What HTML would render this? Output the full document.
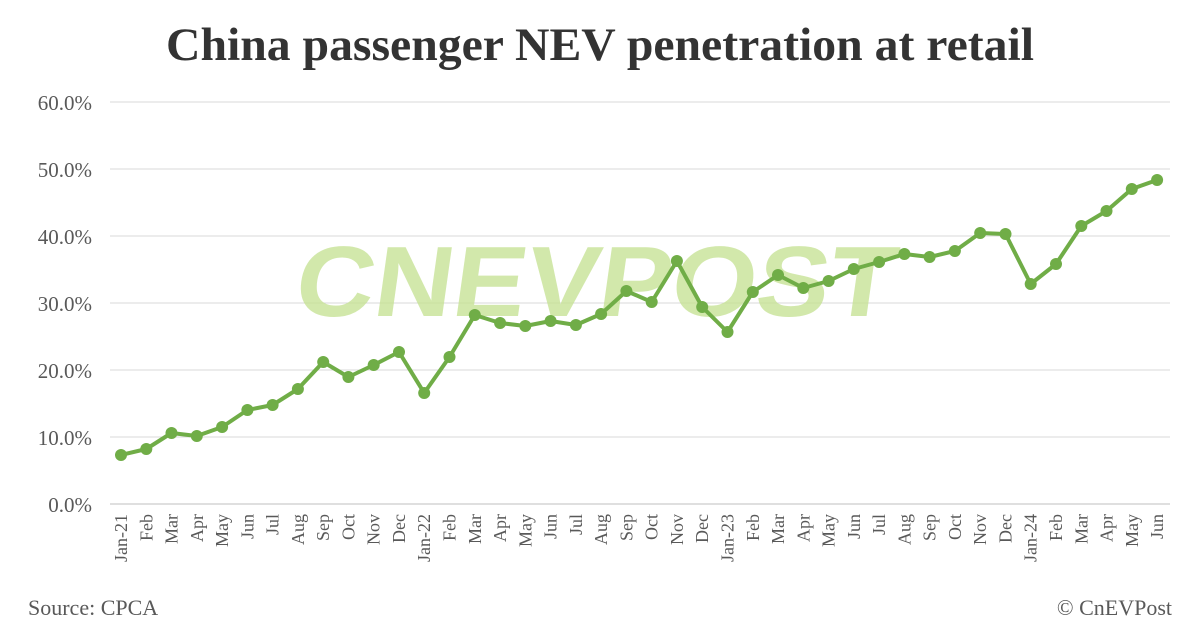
<!DOCTYPE html>
<html><head><meta charset="utf-8"><style>
html,body{margin:0;padding:0;background:#fff;}
</style></head><body>
<svg width="1200" height="628" viewBox="0 0 1200 628" xmlns="http://www.w3.org/2000/svg" font-family="Liberation Serif, serif">
<rect width="1200" height="628" fill="#fff"/>
<text x="600" y="60" text-anchor="middle" font-size="47" font-weight="bold" fill="#333" textLength="868" lengthAdjust="spacingAndGlyphs">China passenger NEV penetration at retail</text>
<g stroke="#d9d9d9" stroke-width="1">
<line x1="110" y1="102" x2="1170" y2="102"/><line x1="110" y1="169" x2="1170" y2="169"/><line x1="110" y1="236" x2="1170" y2="236"/><line x1="110" y1="303" x2="1170" y2="303"/><line x1="110" y1="370" x2="1170" y2="370"/><line x1="110" y1="437" x2="1170" y2="437"/>
</g>
<line x1="110" y1="504" x2="1170" y2="504" stroke="#bfbfbf" stroke-width="1"/>
<g font-size="21" fill="#595959" text-anchor="end">
<text x="92" y="110">60.0%</text><text x="92" y="177">50.0%</text><text x="92" y="244">40.0%</text><text x="92" y="311">30.0%</text><text x="92" y="378">20.0%</text><text x="92" y="445">10.0%</text><text x="92" y="512">0.0%</text>
</g>
<text transform="translate(292,316) skewX(-8)" font-family="Liberation Sans, sans-serif" font-size="100" font-weight="bold" fill="#c3e08f" fill-opacity="0.75" textLength="600" lengthAdjust="spacingAndGlyphs">CNEVPOST</text>
<polyline fill="none" stroke="#70ad47" stroke-width="4" stroke-linejoin="round" points="121.0,455 146.3,449 171.5,433 196.8,436 222.1,427 247.4,410 272.6,405 297.9,389 323.2,362 348.4,377 373.7,365 399.0,352 424.2,393 449.5,357 474.8,315 500.1,323 525.3,326 550.6,321 575.9,325 601.1,314 626.4,291 651.7,302 676.9,261 702.2,307 727.5,332 752.8,292 778.0,275 803.3,288 828.6,281 853.8,269 879.1,262 904.4,254 929.6,257 954.9,251 980.2,233 1005.5,234 1030.7,284 1056.0,264 1081.3,226 1106.5,211 1131.8,189 1157.1,180"/>
<g fill="#70ad47">
<circle cx="121.0" cy="455" r="6"/><circle cx="146.3" cy="449" r="6"/><circle cx="171.5" cy="433" r="6"/><circle cx="196.8" cy="436" r="6"/><circle cx="222.1" cy="427" r="6"/><circle cx="247.4" cy="410" r="6"/><circle cx="272.6" cy="405" r="6"/><circle cx="297.9" cy="389" r="6"/><circle cx="323.2" cy="362" r="6"/><circle cx="348.4" cy="377" r="6"/><circle cx="373.7" cy="365" r="6"/><circle cx="399.0" cy="352" r="6"/><circle cx="424.2" cy="393" r="6"/><circle cx="449.5" cy="357" r="6"/><circle cx="474.8" cy="315" r="6"/><circle cx="500.1" cy="323" r="6"/><circle cx="525.3" cy="326" r="6"/><circle cx="550.6" cy="321" r="6"/><circle cx="575.9" cy="325" r="6"/><circle cx="601.1" cy="314" r="6"/><circle cx="626.4" cy="291" r="6"/><circle cx="651.7" cy="302" r="6"/><circle cx="676.9" cy="261" r="6"/><circle cx="702.2" cy="307" r="6"/><circle cx="727.5" cy="332" r="6"/><circle cx="752.8" cy="292" r="6"/><circle cx="778.0" cy="275" r="6"/><circle cx="803.3" cy="288" r="6"/><circle cx="828.6" cy="281" r="6"/><circle cx="853.8" cy="269" r="6"/><circle cx="879.1" cy="262" r="6"/><circle cx="904.4" cy="254" r="6"/><circle cx="929.6" cy="257" r="6"/><circle cx="954.9" cy="251" r="6"/><circle cx="980.2" cy="233" r="6"/><circle cx="1005.5" cy="234" r="6"/><circle cx="1030.7" cy="284" r="6"/><circle cx="1056.0" cy="264" r="6"/><circle cx="1081.3" cy="226" r="6"/><circle cx="1106.5" cy="211" r="6"/><circle cx="1131.8" cy="189" r="6"/><circle cx="1157.1" cy="180" r="6"/>
</g>
<g font-size="18" fill="#595959" text-anchor="end">
<text transform="translate(127.0,514) rotate(-90)">Jan-21</text>
<text transform="translate(152.3,514) rotate(-90)">Feb</text>
<text transform="translate(177.5,514) rotate(-90)">Mar</text>
<text transform="translate(202.8,514) rotate(-90)">Apr</text>
<text transform="translate(228.1,514) rotate(-90)">May</text>
<text transform="translate(253.4,514) rotate(-90)">Jun</text>
<text transform="translate(278.6,514) rotate(-90)">Jul</text>
<text transform="translate(303.9,514) rotate(-90)">Aug</text>
<text transform="translate(329.2,514) rotate(-90)">Sep</text>
<text transform="translate(354.4,514) rotate(-90)">Oct</text>
<text transform="translate(379.7,514) rotate(-90)">Nov</text>
<text transform="translate(405.0,514) rotate(-90)">Dec</text>
<text transform="translate(430.2,514) rotate(-90)">Jan-22</text>
<text transform="translate(455.5,514) rotate(-90)">Feb</text>
<text transform="translate(480.8,514) rotate(-90)">Mar</text>
<text transform="translate(506.1,514) rotate(-90)">Apr</text>
<text transform="translate(531.3,514) rotate(-90)">May</text>
<text transform="translate(556.6,514) rotate(-90)">Jun</text>
<text transform="translate(581.9,514) rotate(-90)">Jul</text>
<text transform="translate(607.1,514) rotate(-90)">Aug</text>
<text transform="translate(632.4,514) rotate(-90)">Sep</text>
<text transform="translate(657.7,514) rotate(-90)">Oct</text>
<text transform="translate(682.9,514) rotate(-90)">Nov</text>
<text transform="translate(708.2,514) rotate(-90)">Dec</text>
<text transform="translate(733.5,514) rotate(-90)">Jan-23</text>
<text transform="translate(758.8,514) rotate(-90)">Feb</text>
<text transform="translate(784.0,514) rotate(-90)">Mar</text>
<text transform="translate(809.3,514) rotate(-90)">Apr</text>
<text transform="translate(834.6,514) rotate(-90)">May</text>
<text transform="translate(859.8,514) rotate(-90)">Jun</text>
<text transform="translate(885.1,514) rotate(-90)">Jul</text>
<text transform="translate(910.4,514) rotate(-90)">Aug</text>
<text transform="translate(935.6,514) rotate(-90)">Sep</text>
<text transform="translate(960.9,514) rotate(-90)">Oct</text>
<text transform="translate(986.2,514) rotate(-90)">Nov</text>
<text transform="translate(1011.5,514) rotate(-90)">Dec</text>
<text transform="translate(1036.7,514) rotate(-90)">Jan-24</text>
<text transform="translate(1062.0,514) rotate(-90)">Feb</text>
<text transform="translate(1087.3,514) rotate(-90)">Mar</text>
<text transform="translate(1112.5,514) rotate(-90)">Apr</text>
<text transform="translate(1137.8,514) rotate(-90)">May</text>
<text transform="translate(1163.1,514) rotate(-90)">Jun</text>
</g>
<text x="28" y="615" font-size="22" fill="#595959">Source: CPCA</text>
<text x="1172" y="615" font-size="22" fill="#595959" text-anchor="end">© CnEVPost</text>
</svg>
</body></html>
